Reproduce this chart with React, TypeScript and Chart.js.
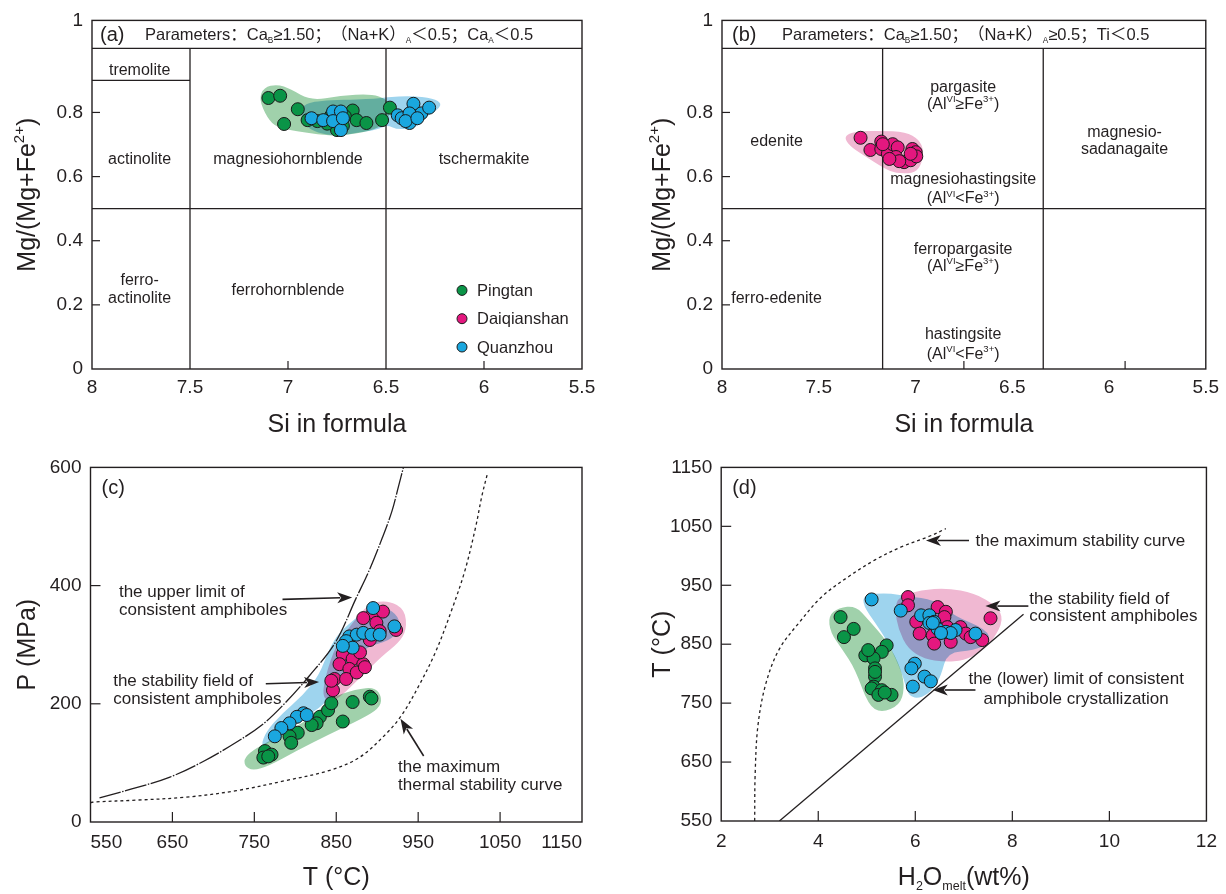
import React, { useEffect, useRef } from "react";
import { Chart, registerables } from "chart.js";
Chart.register(...registerables);

const FONT = '"Liberation Sans", Arial, "Noto Sans CJK SC", sans-serif';
const INK = "#231f20";

const COL_PING = "#0a9447";
const COL_DAI = "#e4177f";
const COL_QUAN = "#1aa7df";
const HULL_PING = "rgb(160,209,171)";
const HULL_DAI = "rgb(240,184,210)";
const HULL_QUAN = "rgb(158,212,238)";

type P = [number, number];
type Seg = [string, string];

// ---------------- series names ----------------
const seriesNames = ["Pingtan", "Daiqianshan", "Quanzhou"];

// ---------------- (a) Si vs Mg/(Mg+Fe2+) ----------------
const siTicks = [8, 7.5, 7, 6.5, 6, 5.5];
const siTickLabels = ["8", "7.5", "7", "6.5", "6", "5.5"];
const mgTicks = [0, 0.2, 0.4, 0.6, 0.8, 1.087];
const mgTickLabels = ["0", "0.2", "0.4", "0.6", "0.8", "1"];

const aPingtan: P[] = [
  [7.10, 0.845], [7.04, 0.852], [6.95, 0.81], [7.02, 0.764], [6.90, 0.776], [6.85, 0.773],
  [6.67, 0.806], [6.71, 0.788], [6.65, 0.776], [6.60, 0.767], [6.75, 0.745], [6.72, 0.758],
  [6.52, 0.776], [6.48, 0.815], [6.80, 0.765], [6.78, 0.79],
];
const aQuanzhou: P[] = [
  [6.88, 0.782], [6.82, 0.776], [6.77, 0.803], [6.73, 0.803], [6.77, 0.773], [6.73, 0.745],
  [6.72, 0.782], [6.44, 0.791], [6.42, 0.782], [6.38, 0.767], [6.36, 0.827], [6.32, 0.797],
  [6.28, 0.815], [6.38, 0.797], [6.40, 0.773], [6.34, 0.782],
];
const aHullPingtan: P[] = [
  [7.148, 0.842], [7.123, 0.878], [7.055, 0.888], [6.987, 0.873], [6.885, 0.837], [6.732, 0.852],
  [6.579, 0.858], [6.494, 0.842], [6.478, 0.812], [6.494, 0.767], [6.579, 0.742], [6.732, 0.726],
  [6.851, 0.731], [6.953, 0.742], [7.055, 0.752], [7.106, 0.782],
];
const aHullQuanzhou: P[] = [
  [6.927, 0.822], [6.851, 0.837], [6.579, 0.842], [6.494, 0.847], [6.376, 0.852], [6.257, 0.844],
  [6.215, 0.827], [6.240, 0.807], [6.308, 0.782], [6.342, 0.752], [6.444, 0.746], [6.494, 0.762],
  [6.545, 0.746], [6.647, 0.736], [6.749, 0.726], [6.851, 0.736], [6.910, 0.757], [6.936, 0.792],
];
const aBoundaries: [number, number, number, number][] = [
  [8, 1, 5.5, 1], [8, 0.9, 7.5, 0.9], [7.5, 1, 7.5, 0], [6.5, 1, 6.5, 0], [8, 0.5, 5.5, 0.5],
];

// ---------------- (b) ----------------
const bDaiqianshan: P[] = [
  [7.284, 0.721], [7.233, 0.683], [7.177, 0.709], [7.177, 0.686], [7.143, 0.671], [7.118, 0.701],
  [7.092, 0.691], [7.101, 0.661], [7.059, 0.645], [7.025, 0.651], [7.016, 0.686], [6.999, 0.676],
  [6.996, 0.663], [7.025, 0.671], [7.084, 0.648], [7.135, 0.655], [7.169, 0.701],
];
const bHullDaiqianshan: P[] = [
  [7.355, 0.731], [7.304, 0.741], [7.186, 0.743], [7.050, 0.739], [6.982, 0.716], [6.957, 0.681],
  [6.973, 0.630], [7.016, 0.610], [7.101, 0.610], [7.161, 0.625], [7.254, 0.661], [7.330, 0.691],
  [7.365, 0.716],
];
const bBoundaries: [number, number, number, number][] = [
  [8, 1, 5.5, 1], [7.17, 1, 7.17, 0], [6.34, 1, 6.34, 0], [8, 0.5, 5.5, 0.5],
];

// ---------------- (c) T vs P ----------------
const tTicksC = [550, 650, 750, 850, 950, 1050, 1150];
const tTickLabelsC = ["550", "650", "750", "850", "950", "1050", "1150"];
const pTicks = [0, 200, 400, 600];
const pTickLabels = ["0", "200", "400", "600"];

const cPingtan: P[] = [
  [891, 212], [870, 203], [858, 170], [830, 178], [826, 167], [820, 164], [840, 189], [803, 151],
  [793, 145], [795, 134], [763, 120], [771, 114], [761, 109], [767, 111], [844, 201], [893, 209],
];
const cDaiqianshan: P[] = [
  [895, 354], [907, 356], [883, 345], [899, 337], [903, 323], [923, 325], [891, 308], [858, 284],
  [870, 276], [883, 267], [854, 267], [866, 259], [848, 242], [862, 242], [875, 253], [846, 223],
  [879, 287], [885, 262], [844, 239],
];
const cQuanzhou: P[] = [
  [895, 362], [921, 331], [866, 314], [875, 317], [883, 320], [893, 317], [903, 317], [862, 306],
  [870, 295], [858, 298], [810, 184], [802, 178], [793, 167], [783, 159], [775, 145], [814, 181],
];
const cUpperLimit: P[] = [
  [561, 41], [606, 58], [647, 76], [687, 102], [728, 135], [760, 165], [788, 202], [817, 247],
  [849, 304], [874, 378], [890, 425], [906, 480], [918, 526], [926, 568], [932, 600],
];
const cMaxThermal: P[] = [
  [550, 33], [556, 34], [606, 37], [667, 42], [728, 53], [788, 70], [841, 87], [878, 109],
  [910, 148], [930, 181], [951, 231], [971, 287], [991, 359], [1007, 425], [1020, 498],
  [1028, 553], [1035, 592],
];
const cHullPingtan: P[] = [
  [738, 109], [752, 125], [784, 148], [825, 181], [841, 209], [874, 225], [898, 228], [906, 209],
  [902, 192], [882, 175], [841, 148], [801, 120], [768, 95], [748, 87], [738, 95],
];
const cHullQuanzhou: P[] = [
  [758, 128], [764, 153], [784, 184], [809, 214], [829, 248], [841, 292], [853, 320], [874, 345],
  [890, 362], [910, 364], [926, 348], [928, 325], [914, 306], [890, 298], [870, 275], [845, 214],
  [829, 192], [809, 175], [784, 153], [768, 134],
];
const cHullDaiqianshan: P[] = [
  [833, 214], [837, 248], [849, 298], [870, 337], [890, 370], [914, 375], [934, 359], [936, 325],
  [926, 303], [906, 281], [882, 248], [853, 209], [841, 203],
];

// ---------------- (d) H2O vs T ----------------
const hTicks = [2, 4, 6, 8, 10, 12];
const hTickLabels = ["2", "4", "6", "8", "10", "12"];
const tTicksD = [550, 650, 750, 850, 950, 1050, 1150];
const tTickLabelsD = ["550", "650", "750", "850", "950", "1050", "1150"];

const dPingtan: P[] = [
  [4.46, 896], [4.73, 876], [4.53, 862], [5.41, 848], [5.31, 837], [4.97, 831], [5.14, 826],
  [5.17, 809], [5.17, 795], [5.14, 778], [5.10, 775], [5.31, 772], [5.51, 764], [5.24, 764],
  [5.37, 768], [5.03, 840], [5.17, 803],
];
const dDaiqianshan: P[] = [
  [5.85, 930], [5.85, 916], [6.02, 888], [6.09, 868], [6.36, 865], [6.39, 851], [6.73, 854],
  [6.46, 913], [6.63, 905], [6.60, 896], [6.93, 879], [7.04, 868], [7.14, 862], [7.38, 857],
  [7.55, 894], [6.66, 879],
];
const dQuanzhou: P[] = [
  [5.10, 926], [5.70, 907], [6.12, 899], [6.29, 899], [6.39, 888], [6.29, 886], [6.46, 876],
  [6.63, 871], [6.83, 874], [6.73, 869], [7.24, 868], [5.99, 817], [5.92, 809], [6.19, 795],
  [6.32, 787], [5.95, 778], [6.36, 886], [6.53, 869],
];
const dMaxStability: P[] = [
  [2.69, 550], [2.70, 630], [2.76, 714], [2.93, 786], [3.20, 842], [3.61, 887], [4.08, 931],
  [4.63, 965], [5.17, 993], [5.71, 1015], [6.26, 1032], [6.63, 1046],
];
const dLowerLimit: P[] = [[3.20, 550], [8.23, 901]];
const dHullPingtan: P[] = [
  [4.21, 898], [4.42, 912], [4.77, 915], [5.03, 892], [5.44, 853], [5.71, 808], [5.78, 775],
  [5.68, 747], [5.30, 733], [5.03, 747], [4.76, 808], [4.49, 842], [4.25, 870],
];
const dHullQuanzhou: P[] = [
  [4.93, 934], [5.44, 937], [5.85, 931], [6.39, 926], [6.80, 898], [7.48, 875], [7.55, 853],
  [7.21, 839], [6.66, 836], [6.53, 797], [6.39, 775], [6.12, 758], [5.85, 761], [5.75, 797],
  [5.44, 853], [5.17, 887], [4.93, 915],
];
const dHullDaiqianshan: P[] = [
  [5.65, 931], [6.12, 942], [6.66, 945], [7.21, 937], [7.68, 915], [7.82, 892], [7.62, 859],
  [7.34, 836], [7.00, 822], [6.60, 820], [6.19, 825], [5.85, 842], [5.65, 875], [5.58, 909],
];

// ---------------- helpers ----------------
function drawRich(ctx: CanvasRenderingContext2D, segs: Seg[], x: number, y: number, size: number, align = "center") {
  const parts = segs.map(([t, k]) => {
    const s = k === "n" ? size : size * (k === "sup" ? 0.6 : 0.5);
    ctx.font = `${s}px ${FONT}`;
    return { t, k, s, w: ctx.measureText(t).width };
  });
  const total = parts.reduce((a, p) => a + p.w, 0);
  let cx = align === "center" ? x - total / 2 : align === "right" ? x - total : x;
  const base = y + size * 0.35;
  ctx.fillStyle = INK;
  ctx.textAlign = "left";
  ctx.textBaseline = "alphabetic";
  for (const p of parts) {
    ctx.font = `${p.s}px ${FONT}`;
    const dy = p.k === "sup" ? -size * 0.42 : p.k === "sub" ? size * 0.2 : 0;
    ctx.fillText(p.t, cx, base + dy);
    cx += p.w;
  }
}

function smoothClosed(ctx: CanvasRenderingContext2D, pts: number[][]) {
  const n = pts.length;
  const mid = (p: number[], q: number[]) => [(p[0] + q[0]) / 2, (p[1] + q[1]) / 2];
  const m0 = mid(pts[n - 1], pts[0]);
  ctx.moveTo(m0[0], m0[1]);
  for (let i = 0; i < n; i++) {
    const p = pts[i];
    const m = mid(p, pts[(i + 1) % n]);
    ctx.quadraticCurveTo(p[0], p[1], m[0], m[1]);
  }
  ctx.closePath();
}

function drawArrow(ctx: CanvasRenderingContext2D, x1: number, y1: number, x2: number, y2: number) {
  const ang = Math.atan2(y2 - y1, x2 - x1);
  const L = 15, W = 5.5;
  const bx = x2 - L * Math.cos(ang), by = y2 - L * Math.sin(ang);
  ctx.beginPath();
  ctx.moveTo(x1, y1);
  ctx.lineTo(bx + 3 * Math.cos(ang), by + 3 * Math.sin(ang));
  ctx.lineWidth = 1.6;
  ctx.stroke();
  ctx.beginPath();
  ctx.moveTo(x2, y2);
  ctx.lineTo(bx + W * Math.sin(ang), by - W * Math.cos(ang));
  ctx.lineTo(bx + 4 * Math.cos(ang), by + 4 * Math.sin(ang));
  ctx.lineTo(bx - W * Math.sin(ang), by + W * Math.cos(ang));
  ctx.closePath();
  ctx.fill();
}

interface TextItem { segs: Seg[]; x: number; y: number; size: number; align?: string }
interface Spec {
  W: number; H: number;
  plot: { l: number; t: number; r: number; b: number };
  x: { min: number; max: number; reverse?: boolean; ticks: number[]; labels: string[]; pad: number; align?: string };
  y: { min: number; max: number; ticks: number[]; labels: string[]; pad: number };
  datasets: any[];
  hulls: { pts: P[]; color: string }[];
  lines: [number, number, number, number][];
  texts: TextItem[];
  arrows: [number, number, number, number][];
  inX: number[]; inY: number[]; tickLen: number;
  panel: string; panelDX: number; panelDY: number | null;
  header?: { segs: Seg[]; dx: number };
  xTitle: Seg[]; xTitleY: number;
  yTitle: Seg[]; yTitleX: number;
  legend?: { dx: number; dy: number; step: number; colors: string[] };
}

function pts(arr: P[]) {
  return arr.map(([x, y]) => ({ x, y }));
}
function scatterSet(label: string, arr: P[], color: string, order: number) {
  return {
    label, data: pts(arr), backgroundColor: color, borderColor: "#1a1a1a", borderWidth: 1,
    pointRadius: 6.5, pointStyle: "circle", showLine: false, order,
  };
}
function curveSet(label: string, arr: P[], dash: number[], tension: number) {
  return {
    label, data: pts(arr), showLine: true, borderColor: INK, borderWidth: 1.3, borderDash: dash,
    pointRadius: 0, tension, fill: false, order: 10,
  };
}

function buildChart(canvas: HTMLCanvasElement, s: Spec) {
  const plugin = {
    id: "annot",
    beforeDatasetsDraw(chart: any) {
      const { ctx, chartArea: ca } = chart;
      const xs = chart.scales.x, ys = chart.scales.y;
      const X = (v: number) => xs.getPixelForValue(v), Y = (v: number) => ys.getPixelForValue(v);
      ctx.save();
      ctx.beginPath();
      ctx.rect(ca.left, ca.top, ca.right - ca.left, ca.bottom - ca.top);
      ctx.clip();
      ctx.globalCompositeOperation = "multiply";
      for (const h of s.hulls) {
        ctx.beginPath();
        smoothClosed(ctx, h.pts.map(([a, b]) => [X(a), Y(b)]));
        ctx.fillStyle = h.color;
        ctx.fill();
      }
      ctx.globalCompositeOperation = "source-over";
      ctx.strokeStyle = INK;
      ctx.lineWidth = 1.3;
      for (const [x1, y1, x2, y2] of s.lines) {
        ctx.beginPath();
        ctx.moveTo(X(x1), Y(y1));
        ctx.lineTo(X(x2), Y(y2));
        ctx.stroke();
      }
      ctx.restore();
    },
    afterDatasetsDraw(chart: any) {
      const { ctx, chartArea: ca } = chart;
      const xs = chart.scales.x, ys = chart.scales.y;
      const X = (v: number) => xs.getPixelForValue(v), Y = (v: number) => ys.getPixelForValue(v);
      ctx.save();
      ctx.strokeStyle = INK;
      ctx.lineWidth = 1.4;
      ctx.strokeRect(ca.left, ca.top, ca.right - ca.left, ca.bottom - ca.top);
      ctx.lineWidth = 1.2;
      for (const v of s.inX) {
        ctx.beginPath();
        ctx.moveTo(X(v), ca.bottom);
        ctx.lineTo(X(v), ca.bottom - s.tickLen);
        ctx.stroke();
      }
      for (const v of s.inY) {
        ctx.beginPath();
        ctx.moveTo(ca.left, Y(v));
        ctx.lineTo(ca.left + s.tickLen, Y(v));
        ctx.stroke();
      }
      for (const t of s.texts) drawRich(ctx, t.segs, X(t.x), Y(t.y), t.size, t.align || "center");
      ctx.fillStyle = INK;
      ctx.strokeStyle = INK;
      for (const [x1, y1, x2, y2] of s.arrows) drawArrow(ctx, X(x1), Y(y1), X(x2), Y(y2));
      const py = s.panelDY === null ? (ca.top + Y(1)) / 2 : ca.top + s.panelDY;
      drawRich(ctx, [[s.panel, "n"]], ca.left + s.panelDX, py, 20, "left");
      if (s.header) drawRich(ctx, s.header.segs, ca.left + s.header.dx, py, 16.5, "left");
      if (s.legend) {
        const lg = s.legend;
        seriesNames.forEach((name, i) => {
          const cx = ca.left + lg.dx, cy = ca.top + lg.dy + i * lg.step;
          ctx.beginPath();
          ctx.arc(cx, cy, 5, 0, Math.PI * 2);
          ctx.fillStyle = lg.colors[i];
          ctx.fill();
          ctx.lineWidth = 1;
          ctx.strokeStyle = "#1a1a1a";
          ctx.stroke();
          drawRich(ctx, [[name, "n"]], cx + 15, cy, 16.5, "left");
        });
      }
      drawRich(ctx, s.xTitle, (ca.left + ca.right) / 2, s.xTitleY, 25, "center");
      ctx.translate(s.yTitleX, (ca.top + ca.bottom) / 2);
      ctx.rotate(-Math.PI / 2);
      drawRich(ctx, s.yTitle, 0, 0, 25, "center");
      ctx.restore();
    },
  };

  return new Chart(canvas, {
    type: "scatter",
    data: { datasets: s.datasets },
    options: {
      responsive: false,
      animation: false,
      devicePixelRatio: 1,
      events: [],
      layout: { padding: { left: 0, top: s.plot.t, right: s.W - s.plot.r, bottom: 0 } },
      plugins: { legend: { display: false }, tooltip: { enabled: false } },
      scales: {
        x: {
          type: "linear", min: s.x.min, max: s.x.max, reverse: !!s.x.reverse,
          afterBuildTicks: (sc: any) => { sc.ticks = s.x.ticks.map((v) => ({ value: v })); },
          afterFit: (sc: any) => { sc.height = s.H - s.plot.b; },
          grid: { display: false, drawTicks: false },
          border: { display: false },
          ticks: {
            color: INK, font: { family: FONT, size: 19 }, padding: s.x.pad, maxRotation: 0,
            autoSkip: false, align: s.x.align || "center",
            callback: (_v: any, i: number) => s.x.labels[i],
          },
        },
        y: {
          type: "linear", min: s.y.min, max: s.y.max,
          afterBuildTicks: (sc: any) => { sc.ticks = s.y.ticks.map((v) => ({ value: v })); },
          afterFit: (sc: any) => { sc.width = s.plot.l; },
          grid: { display: false, drawTicks: false },
          border: { display: false },
          ticks: {
            color: INK, font: { family: FONT, size: 19 }, padding: s.y.pad,
            autoSkip: false, callback: (_v: any, i: number) => s.y.labels[i],
          },
        },
      },
    } as any,
    plugins: [plugin as any],
  });
}

// ---------------- specs ----------------
const AlGe: Seg[] = [["(Al", "n"], ["VI", "sup"], ["≥Fe", "n"], ["3+", "sup"], [")", "n"]];
const AlLt: Seg[] = [["(Al", "n"], ["VI", "sup"], ["<Fe", "n"], ["3+", "sup"], [")", "n"]];
const mgTitle: Seg[] = [["Mg/(Mg+Fe", "n"], ["2+", "sup"], [")", "n"]];

const specA: Spec = {
  W: 613, H: 447, plot: { l: 92, t: 12, r: 582, b: 369 },
  x: { min: 5.5, max: 8, reverse: true, ticks: siTicks, labels: siTickLabels, pad: 7 },
  y: { min: 0, max: 1.087, ticks: mgTicks, labels: mgTickLabels, pad: 9 },
  datasets: [
    scatterSet(seriesNames[0], aPingtan, COL_PING, 3),
    scatterSet(seriesNames[2], aQuanzhou, COL_QUAN, 1),
  ],
  hulls: [{ pts: aHullPingtan, color: HULL_PING }, { pts: aHullQuanzhou, color: HULL_QUAN }],
  lines: aBoundaries,
  texts: [
    { segs: [["tremolite", "n"]], x: 7.757, y: 0.933, size: 16 },
    { segs: [["actinolite", "n"]], x: 7.757, y: 0.657, size: 16 },
    { segs: [["magnesiohornblende", "n"]], x: 7.0, y: 0.657, size: 16 },
    { segs: [["tschermakite", "n"]], x: 6.0, y: 0.657, size: 16 },
    { segs: [["ferro-", "n"]], x: 7.757, y: 0.279, size: 16 },
    { segs: [["actinolite", "n"]], x: 7.757, y: 0.222, size: 16 },
    { segs: [["ferrohornblende", "n"]], x: 7.0, y: 0.249, size: 16 },
  ],
  arrows: [],
  inX: [7, 6], inY: [0.2, 0.4, 0.6, 0.8], tickLen: 8,
  panel: "(a)", panelDX: 8, panelDY: null,
  header: {
    dx: 53,
    segs: [["Parameters：Ca", "n"], ["B", "sub"], ["≥1.50；（Na+K）", "n"], ["A", "sub"], ["＜0.5；Ca", "n"], ["A", "sub"], ["＜0.5", "n"]],
  },
  xTitle: [["Si in formula", "n"]], xTitleY: 423,
  yTitle: mgTitle, yTitleX: 26,
  legend: { dx: 370, dy: 270, step: 28.3, colors: [COL_PING, COL_DAI, COL_QUAN] },
};

const specB: Spec = {
  W: 613, H: 447, plot: { l: 109, t: 12, r: 599, b: 369 },
  x: { min: 5.5, max: 8, reverse: true, ticks: siTicks, labels: siTickLabels, pad: 7 },
  y: { min: 0, max: 1.087, ticks: mgTicks, labels: mgTickLabels, pad: 9 },
  datasets: [scatterSet(seriesNames[1], bDaiqianshan, COL_DAI, 2)],
  hulls: [{ pts: bHullDaiqianshan, color: HULL_DAI }],
  lines: bBoundaries,
  texts: [
    { segs: [["edenite", "n"]], x: 7.718, y: 0.713, size: 16 },
    { segs: [["pargasite", "n"]], x: 6.754, y: 0.880, size: 16 },
    { segs: AlGe, x: 6.754, y: 0.828, size: 16 },
    { segs: [["magnesio-", "n"]], x: 5.92, y: 0.741, size: 16 },
    { segs: [["sadanagaite", "n"]], x: 5.92, y: 0.688, size: 16 },
    { segs: [["magnesiohastingsite", "n"]], x: 6.754, y: 0.595, size: 16 },
    { segs: AlLt, x: 6.754, y: 0.534, size: 16 },
    { segs: [["ferropargasite", "n"]], x: 6.754, y: 0.377, size: 16 },
    { segs: AlGe, x: 6.754, y: 0.323, size: 16 },
    { segs: [["ferro-edenite", "n"]], x: 7.718, y: 0.222, size: 16 },
    { segs: [["hastingsite", "n"]], x: 6.754, y: 0.110, size: 16 },
    { segs: AlLt, x: 6.754, y: 0.049, size: 16 },
  ],
  arrows: [],
  inX: [6.75, 5.917], inY: [0.2, 0.4, 0.6, 0.8], tickLen: 8,
  panel: "(b)", panelDX: 10, panelDY: null,
  header: {
    dx: 60,
    segs: [["Parameters：Ca", "n"], ["B", "sub"], ["≥1.50；（Na+K）", "n"], ["A", "sub"], ["≥0.5；Ti＜0.5", "n"]],
  },
  xTitle: [["Si in formula", "n"]], xTitleY: 423,
  yTitle: mgTitle, yTitleX: 48,
};

const specC: Spec = {
  W: 613, H: 447, plot: { l: 90.5, t: 15.5, r: 582, b: 375 },
  x: { min: 550, max: 1150, ticks: tTicksC, labels: tTickLabelsC, pad: 9, align: "inner" },
  y: { min: 0, max: 600, ticks: pTicks, labels: pTickLabels, pad: 9 },
  datasets: [
    curveSet("upper limit", cUpperLimit, [22, 1.5, 1.5, 1.5], 0.35),
    curveSet("max thermal", cMaxThermal, [3, 3], 0.35),
    scatterSet(seriesNames[0], cPingtan, COL_PING, 3),
    scatterSet(seriesNames[1], cDaiqianshan, COL_DAI, 2),
    scatterSet(seriesNames[2], cQuanzhou, COL_QUAN, 1),
  ],
  hulls: [
    { pts: cHullPingtan, color: HULL_PING },
    { pts: cHullDaiqianshan, color: HULL_DAI },
    { pts: cHullQuanzhou, color: HULL_QUAN },
  ],
  lines: [],
  texts: [
    { segs: [["the upper limit of", "n"]], x: 584.7, y: 390, size: 17, align: "left" },
    { segs: [["consistent amphiboles", "n"]], x: 584.7, y: 360, size: 17, align: "left" },
    { segs: [["the stability field of", "n"]], x: 577.7, y: 241, size: 17, align: "left" },
    { segs: [["consistent amphiboles", "n"]], x: 577.7, y: 210, size: 17, align: "left" },
    { segs: [["the maximum", "n"]], x: 925.4, y: 95, size: 17, align: "left" },
    { segs: [["thermal stability curve", "n"]], x: 925.4, y: 64.5, size: 17, align: "left" },
  ],
  arrows: [
    [784.4, 376.7, 869.5, 380],
    [764, 233.9, 829, 236.7],
    [956.7, 111.7, 928.4, 174.5],
  ],
  inX: [650, 750, 850, 950, 1050], inY: [200, 400], tickLen: 10,
  panel: "(c)", panelDX: 11, panelDY: 20,
  xTitle: [["T (°C)", "n"]], xTitleY: 429,
  yTitle: [["P (MPa)", "n"]], yTitleX: 26,
};

const specD: Spec = {
  W: 613, H: 447, plot: { l: 108.2, t: 15.7, r: 598.7, b: 374 },
  x: { min: 2, max: 12, ticks: hTicks, labels: hTickLabels, pad: 9 },
  y: { min: 550, max: 1150, ticks: tTicksD, labels: tTickLabelsD, pad: 9 },
  datasets: [
    curveSet("max stability", dMaxStability, [3, 3], 0.35),
    curveSet("lower limit", dLowerLimit, [], 0),
    scatterSet(seriesNames[0], dPingtan, COL_PING, 3),
    scatterSet(seriesNames[1], dDaiqianshan, COL_DAI, 2),
    scatterSet(seriesNames[2], dQuanzhou, COL_QUAN, 1),
  ],
  hulls: [
    { pts: dHullPingtan, color: HULL_PING },
    { pts: dHullDaiqianshan, color: HULL_DAI },
    { pts: dHullQuanzhou, color: HULL_QUAN },
  ],
  lines: [],
  texts: [
    { segs: [["the maximum stability curve", "n"]], x: 7.24, y: 1026, size: 17, align: "left" },
    { segs: [["the stability field of", "n"]], x: 8.35, y: 928.6, size: 17, align: "left" },
    { segs: [["consistent amphiboles", "n"]], x: 8.35, y: 899, size: 17, align: "left" },
    { segs: [["the (lower) limit of consistent", "n"]], x: 9.315, y: 793.4, size: 17 },
    { segs: [["amphibole crystallization", "n"]], x: 9.315, y: 758.2, size: 17 },
  ],
  arrows: [
    [7.107, 1026, 6.22, 1026],
    [8.33, 914.7, 7.445, 914.7],
    [7.24, 772.3, 6.36, 772.3],
  ],
  inX: [4, 6, 8, 10], inY: [650, 750, 850, 950, 1050], tickLen: 10,
  panel: "(d)", panelDX: 11, panelDY: 20,
  xTitle: [["H", "n"], ["2", "sub"], ["O", "n"], ["melt", "sub"], ["(wt%)", "n"]], xTitleY: 429,
  yTitle: [["T (°C)", "n"]], yTitleX: 48,
};

function Panel({ spec, left, top }: { spec: Spec; left: number; top: number }) {
  const ref = useRef<HTMLCanvasElement>(null);
  useEffect(() => {
    const chart = buildChart(ref.current as HTMLCanvasElement, spec);
    return () => chart.destroy();
  }, [spec]);
  return (
    <canvas
      ref={ref}
      width={spec.W}
      height={spec.H}
      style={{ position: "absolute", left, top, width: spec.W, height: spec.H }}
    />
  );
}

export default function App() {
  return (
    <div style={{ position: "absolute", left: 0, top: 0, width: 1226, height: 894, background: "#fff" }}>
      <Panel spec={specA} left={0} top={0} />
      <Panel spec={specB} left={613} top={0} />
      <Panel spec={specC} left={0} top={447} />
      <Panel spec={specD} left={613} top={447} />
    </div>
  );
}
